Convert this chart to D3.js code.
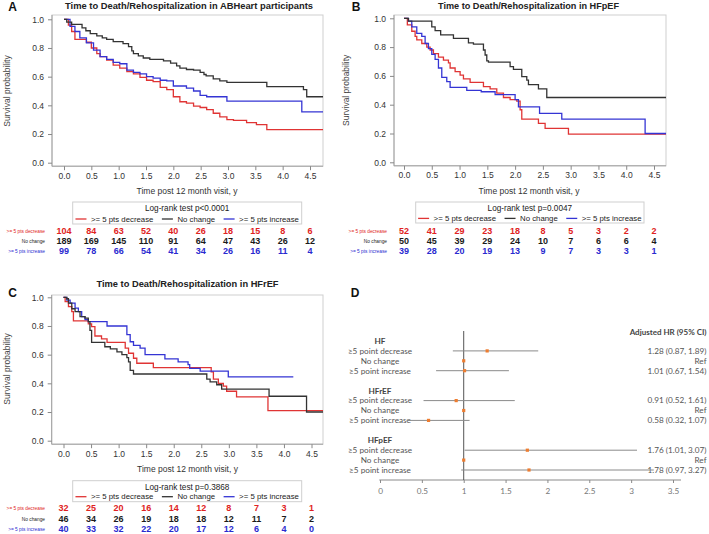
<!DOCTYPE html>
<html><head><meta charset="utf-8">
<script src="https://cdn.jsdelivr.net/npm/d3@7"></script>
<style>body{margin:0;background:#fff;} svg{display:block;font-family:"Liberation Sans",Arial,sans-serif;}</style>
</head><body><svg id="c" width="709" height="534"></svg>
<script>
// ---------- data ----------
const timeTicks = [0,0.5,1,1.5,2,2.5,3,3.5,4,4.5];
const survTicks = [0,0.2,0.4,0.6,0.8,1.0];
const groupNames = [">= 5 pts decrease","No change",">= 5 pts increase"];
const groupColors = ["#e03434","#333333","#3434d4"];
const riskColors = ["#e02222","#1a1a1a","#2a2ad0"];

// Panel A (all ABHeart participants): [time, survival] step points
const A_decrease = [[0,1],[0.08,0.96],[0.14,0.915],[0.2,0.86],[0.41,0.84],[0.5,0.80],[0.6,0.76],[0.66,0.74],[0.78,0.715],[0.9,0.68],[1.02,0.66],[1.15,0.635],[1.27,0.62],[1.39,0.595],[1.51,0.575],[1.63,0.565],[1.76,0.525],[1.88,0.51],[2.0,0.46],[2.12,0.425],[2.24,0.415],[2.37,0.395],[2.49,0.385],[2.61,0.37],[2.73,0.345],[2.85,0.32],[2.98,0.30],[3.1,0.295],[3.34,0.28],[3.52,0.265],[3.71,0.23],[4.8,0.23]];
const A_nochange = [[0,1],[0.05,0.98],[0.14,0.965],[0.33,0.94],[0.4,0.92],[0.48,0.90],[0.6,0.885],[0.7,0.87],[0.78,0.86],[0.9,0.845],[1.08,0.83],[1.18,0.81],[1.24,0.78],[1.27,0.76],[1.36,0.745],[1.45,0.73],[1.57,0.72],[1.82,0.71],[1.95,0.695],[2.06,0.675],[2.12,0.66],[2.24,0.65],[2.37,0.645],[2.49,0.63],[2.56,0.615],[2.6,0.605],[2.73,0.585],[2.85,0.57],[2.98,0.56],[3.71,0.53],[4.38,0.51],[4.44,0.46],[4.8,0.46]];
const A_increase = [[0,1],[0.11,0.95],[0.2,0.915],[0.29,0.87],[0.41,0.835],[0.54,0.785],[0.66,0.74],[0.78,0.72],[0.9,0.70],[1.02,0.69],[1.15,0.645],[1.27,0.63],[1.39,0.62],[1.51,0.60],[1.63,0.59],[1.76,0.575],[1.88,0.57],[2.0,0.535],[2.24,0.52],[2.37,0.50],[2.49,0.47],[2.61,0.46],[2.98,0.43],[4.35,0.355],[4.8,0.355]];

// Panel B (HFpEF)
const B_decrease = [[0,1],[0.06,0.955],[0.14,0.91],[0.2,0.875],[0.23,0.85],[0.32,0.825],[0.41,0.80],[0.47,0.78],[0.53,0.755],[0.62,0.73],[0.71,0.71],[0.8,0.69],[0.83,0.655],[0.92,0.63],[1.01,0.605],[1.07,0.58],[1.19,0.555],[1.43,0.525],[1.55,0.51],[1.67,0.48],[1.79,0.45],[1.91,0.435],[2.03,0.425],[2.09,0.365],[2.12,0.30],[2.42,0.27],[2.54,0.235],[2.96,0.195],[4.8,0.195]];
const B_nochange = [[0,1],[0.08,0.98],[0.5,0.94],[0.56,0.915],[0.66,0.885],[0.89,0.86],[1.16,0.83],[1.25,0.82],[1.43,0.78],[1.46,0.745],[1.49,0.705],[1.52,0.695],[1.91,0.665],[1.97,0.645],[2.12,0.595],[2.21,0.57],[2.24,0.54],[2.42,0.51],[2.57,0.45],[4.8,0.45]];
const B_increase = [[0,1],[0.08,0.98],[0.14,0.94],[0.23,0.895],[0.32,0.875],[0.38,0.825],[0.44,0.79],[0.5,0.75],[0.56,0.715],[0.62,0.655],[0.68,0.59],[0.77,0.56],[0.83,0.52],[1.13,0.50],[1.39,0.49],[1.64,0.47],[2.0,0.435],[2.06,0.385],[2.44,0.34],[2.84,0.30],[4.34,0.20],[4.8,0.20]];

// Panel C (HFrEF)
const C_decrease = [[0,1],[0.03,0.97],[0.09,0.935],[0.15,0.90],[0.18,0.835],[0.45,0.815],[0.51,0.795],[0.57,0.73],[0.69,0.71],[0.79,0.685],[1.12,0.645],[1.18,0.61],[1.27,0.575],[1.33,0.54],[1.63,0.51],[2.68,0.48],[2.72,0.43],[2.81,0.40],[2.9,0.38],[2.96,0.345],[3.14,0.305],[3.71,0.21],[4.8,0.21]];
const C_nochange = [[0,1],[0.06,0.99],[0.09,0.96],[0.15,0.92],[0.21,0.90],[0.3,0.865],[0.39,0.855],[0.45,0.83],[0.48,0.77],[0.51,0.685],[0.75,0.655],[0.85,0.64],[0.97,0.62],[1.06,0.60],[1.15,0.58],[1.18,0.55],[1.21,0.49],[1.27,0.465],[2.6,0.43],[2.66,0.41],[2.78,0.39],[2.87,0.36],[3.73,0.31],[4.41,0.20],[4.8,0.20]];
const C_increase = [[0,1],[0.06,0.98],[0.12,0.96],[0.21,0.925],[0.27,0.90],[0.33,0.865],[0.39,0.845],[0.45,0.83],[0.79,0.80],[1.15,0.74],[1.21,0.69],[1.27,0.665],[1.39,0.645],[1.48,0.60],[1.84,0.57],[2.08,0.55],[2.26,0.53],[2.29,0.505],[2.48,0.485],[2.99,0.445],[4.17,0.445]];

// Numbers at risk
const A_risk_decrease = [104,84,63,52,40,26,18,15,8,6];
const A_risk_nochange = [189,169,145,110,91,64,47,43,26,12];
const A_risk_increase = [99,78,66,54,41,34,26,16,11,4];
const B_risk_decrease = [52,41,29,23,18,8,5,3,2,2];
const B_risk_nochange = [50,45,39,29,24,10,7,6,6,4];
const B_risk_increase = [39,28,20,19,13,9,7,3,3,1];
const C_risk_decrease = [32,25,20,16,14,12,8,7,3,1];
const C_risk_nochange = [46,34,26,19,18,18,12,11,7,2];
const C_risk_increase = [40,33,32,22,20,17,12,6,4,0];

// Forest plot (panel D)
const forestGroups = ["HF","HFrEF","HFpEF"];
const forestRowLabels = ["≥5 point decrease","No change","≥5 point increase"];
const forestHR = [[1.28,1,1.01],[0.91,1,0.58],[1.76,1,1.78]];
const forestLow = [[0.87,null,0.67],[0.52,null,0.32],[1.01,null,0.97]];
const forestHigh = [[1.89,null,1.54],[1.61,null,1.07],[3.07,null,3.27]];
const forestText = [["1.28 (0.87, 1.89)","Ref","1.01 (0.67, 1.54)"],["0.91 (0.52, 1.61)","Ref","0.58 (0.32, 1.07)"],["1.76 (1.01, 3.07)","Ref","1.78 (0.97, 3.27)"]];
const forestTicks = [0,0.5,1,1.5,2,2.5,3,3.5];

// ---------- drawing ----------
const svg = d3.select("#c");
svg.append("rect").attr("width",709).attr("height",534).attr("fill","#fff");

function drawKM(p){
  const g = svg.append("g");
  const x = d3.scaleLinear().domain([0,4.5]).range([p.t0,p.t45]);
  const y = d3.scaleLinear().domain([0,1]).range([p.y0,p.y1]);
  const bottom = p.y0 + 3.5;
  g.append("text").attr("x",p.labX).attr("y",p.labY).attr("dy","0.35em").attr("text-anchor","middle")
    .attr("font-weight","bold").attr("font-size",12).attr("fill","#111").text(p.label);
  g.append("text").attr("x",p.titleX).attr("y",p.titleY).attr("dy","0.35em").attr("text-anchor","middle")
    .attr("font-weight","bold").attr("font-size",9.8).attr("fill","#222")
    .attr("textLength",p.titleW).attr("lengthAdjust","spacingAndGlyphs").text(p.title);
  // frame
  g.append("rect").attr("x",p.left).attr("y",p.top).attr("width",p.right-p.left).attr("height",bottom-p.top)
    .attr("fill","none").attr("stroke","#cfcfcf");
  g.append("line").attr("x1",p.left).attr("x2",p.left).attr("y1",p.top).attr("y2",bottom).attr("stroke","#a0a0a0");
  g.append("line").attr("x1",p.left).attr("x2",p.right).attr("y1",bottom).attr("y2",bottom).attr("stroke","#a0a0a0");
  // axes
  const ya = d3.axisLeft(y).tickValues(survTicks).tickFormat(d3.format(".1f")).tickSize(4).tickPadding(4);
  const ay = g.append("g").attr("transform",`translate(${p.left},0)`).call(ya);
  const xa = d3.axisBottom(x).tickValues(timeTicks).tickFormat(d3.format(".1f")).tickSize(4).tickPadding(2.5);
  const ax = g.append("g").attr("transform",`translate(0,${bottom})`).call(xa);
  [ay,ax].forEach(a=>{
    a.select(".domain").remove();
    a.selectAll(".tick line").attr("stroke","#888");
    a.selectAll(".tick text").attr("fill","#333").attr("font-size",8.5).attr("font-family","Liberation Sans, Arial, sans-serif");
  });
  // axis labels
  g.append("text").attr("transform",`translate(${p.ylabX},${(p.y0+p.y1)/2}) rotate(-90)`).attr("dy","0.35em")
    .attr("text-anchor","middle").attr("font-size",8.5).attr("fill","#444").text("Survival probability");
  g.append("text").attr("x",(p.t0+p.t45)/2).attr("y",p.xlabY).attr("dy","0.35em").attr("text-anchor","middle")
    .attr("font-size",8.5).attr("fill","#333").text("Time post 12 month visit, y");
  // curves
  const cid = "clip"+p.label;
  svg.append("clipPath").attr("id",cid).append("rect").attr("x",p.left).attr("y",p.top-2).attr("width",p.right-p.left).attr("height",bottom-p.top+2);
  const line = d3.line().x(d=>x(d[0])).y(d=>y(d[1])).curve(d3.curveStepAfter);
  const cg = g.append("g").attr("clip-path",`url(#${cid})`);
  [0,2,1].forEach(idx=>{
    cg.append("path").attr("d",line(p.curves[idx])).attr("fill","none").attr("stroke",groupColors[idx]).attr("stroke-width",1.3);
  });
  // legend box
  const lb = p.legend;
  g.append("rect").attr("x",lb[0]).attr("y",lb[1]).attr("width",lb[2]).attr("height",lb[3]).attr("fill","none").attr("stroke","#cfcfcf");
  g.append("text").attr("x",lb[0]+lb[2]/2).attr("y",p.pY).attr("dy","0.35em").attr("text-anchor","middle")
    .attr("font-size",8.2).attr("fill","#222").text(p.pText);
  const items = g.append("g");
  let cx = 0; const lineLen = 11, gap1 = 4.5, gap2 = 8.5;
  groupNames.forEach((n,i)=>{
    items.append("line").attr("x1",cx).attr("x2",cx+lineLen).attr("y1",p.rowY).attr("y2",p.rowY).attr("stroke",groupColors[i]).attr("stroke-width",1.3);
    cx += lineLen + gap1;
    const t = items.append("text").attr("x",cx).attr("y",p.rowY).attr("dy","0.35em").attr("font-size",7.8).attr("fill","#222").text(n);
    cx += t.node().getComputedTextLength() + gap2;
  });
  const total = cx - gap2;
  items.attr("transform",`translate(${lb[0]+lb[2]/2-total/2},0)`);
  // risk table
  p.risk.forEach((row,i)=>{
    g.append("text").attr("x",p.riskLabX).attr("y",p.riskY[i]).attr("dy","0.35em").attr("text-anchor","end")
      .attr("font-size",4.8).attr("fill",riskColors[i]).text(groupNames[i]);
    g.selectAll(null).data(row).enter().append("text")
      .attr("x",(d,j)=>x(timeTicks[j])).attr("y",p.riskY[i]).attr("dy","0.35em").attr("text-anchor","middle")
      .attr("font-size",9).attr("font-weight","bold").attr("fill",riskColors[i]).text(d=>d);
  });
}

drawKM({label:"A",labX:12.7,labY:7,title:"Time to Death/Rehospitalization in ABHeart participants",titleX:189,titleY:6,titleW:248,
  left:52,right:323,top:15,y1:19.3,y0:162.7,t0:64,t45:310,ylabX:7,xlabY:190.7,
  legend:[72.7,202,229,22],pY:208.3,rowY:219,pText:"Log-rank test p<0.0001",
  riskLabX:45,riskY:[231,241.2,251.2],
  curves:[A_decrease,A_nochange,A_increase],risk:[A_risk_decrease,A_risk_nochange,A_risk_increase]});
drawKM({label:"B",labX:356,labY:7,title:"Time to Death/Rehospitalization in HFpEF",titleX:528.5,titleY:6,titleW:181,
  left:394,right:666,top:15,y1:18.3,y0:162.3,t0:404,t45:654,ylabX:346,xlabY:190.7,
  legend:[415.7,202,228.3,21],pY:208.3,rowY:218.4,pText:"Log-rank test p=0.0047",
  riskLabX:387,riskY:[231,241,251],
  curves:[B_decrease,B_nochange,B_increase],risk:[B_risk_decrease,B_risk_nochange,B_risk_increase]});
drawKM({label:"C",labX:12.7,labY:292.7,title:"Time to Death/Rehospitalization in HFrEF",titleX:187.5,titleY:283.3,titleW:182,
  left:51.7,right:323,top:295,y1:297.3,y0:440.7,t0:63.5,t45:311.5,ylabX:7,xlabY:469.3,
  legend:[72.7,480.7,229,21],pY:486.7,rowY:496.7,pText:"Log-rank test p=0.3868",
  riskLabX:45,riskY:[508.3,519.3,529.3],
  curves:[C_decrease,C_nochange,C_increase],risk:[C_risk_decrease,C_risk_nochange,C_risk_increase]});

// ---------- Panel D: forest plot ----------
(function(){
  const g = svg.append("g").attr("font-family","Lato, 'Open Sans', sans-serif");
  const fx = d3.scaleLinear().domain([0,3.5]).range([380,673]);
  const headerY = [341,390.7,440.3], rowStep = 9.9;
  const gray = "#555";
  g.append("text").attr("x",355).attr("y",292.7).attr("dy","0.35em").attr("text-anchor","middle")
    .attr("font-family","Liberation Sans, Arial, sans-serif").attr("font-weight","bold").attr("font-size",12).attr("fill","#111").text("D");
  // axis
  const xa = d3.axisBottom(fx).tickValues(forestTicks).tickFormat(d=>d).tickSize(3).tickPadding(5).tickSizeOuter(0);
  const ax = g.append("g").attr("transform","translate(0,480)").call(xa);
  ax.select(".domain").attr("stroke","#8a8a8a").attr("d","M379.3,0H681");
  ax.selectAll(".tick line").attr("stroke","#8a8a8a");
  ax.selectAll(".tick text").attr("fill","#777").attr("font-size",8.2).attr("font-family","Lato, 'Open Sans', sans-serif");
  // reference line
  g.append("line").attr("x1",fx(1)).attr("x2",fx(1)).attr("y1",331).attr("y2",480).attr("stroke","#555").attr("stroke-width",1);
  g.append("text").attr("x",706.5).attr("y",331.7).attr("dy","0.35em").attr("text-anchor","end")
    .attr("font-weight","bold").attr("font-size",8).attr("fill","#444").text("Adjusted HR (95% CI)");
  forestGroups.forEach((grp,gi)=>{
    g.append("text").attr("x",380).attr("y",headerY[gi]).attr("dy","0.35em").attr("text-anchor","middle")
      .attr("font-weight","bold").attr("font-size",8.2).attr("fill","#444").text(grp);
    forestRowLabels.forEach((lab,ri)=>{
      const yy = headerY[gi] + (ri+1)*rowStep;
      g.append("text").attr("x",380).attr("y",yy).attr("dy","0.35em").attr("text-anchor","middle")
        .attr("font-size",8.2).attr("fill",gray).text(lab);
      g.append("text").attr("x",706.5).attr("y",yy).attr("dy","0.35em").attr("text-anchor","end")
        .attr("font-size",8.2).attr("fill",gray).text(forestText[gi][ri]);
      if (forestLow[gi][ri] !== null) {
        g.append("line").attr("x1",fx(forestLow[gi][ri])).attr("x2",fx(forestHigh[gi][ri])).attr("y1",yy).attr("y2",yy)
          .attr("stroke","#8a8a8a").attr("stroke-width",1);
      }
      g.append("rect").attr("x",fx(forestHR[gi][ri])-1.6).attr("y",yy-1.6).attr("width",3.2).attr("height",3.2).attr("fill","#ed7d31");
    });
  });
})();
</script></body></html>
